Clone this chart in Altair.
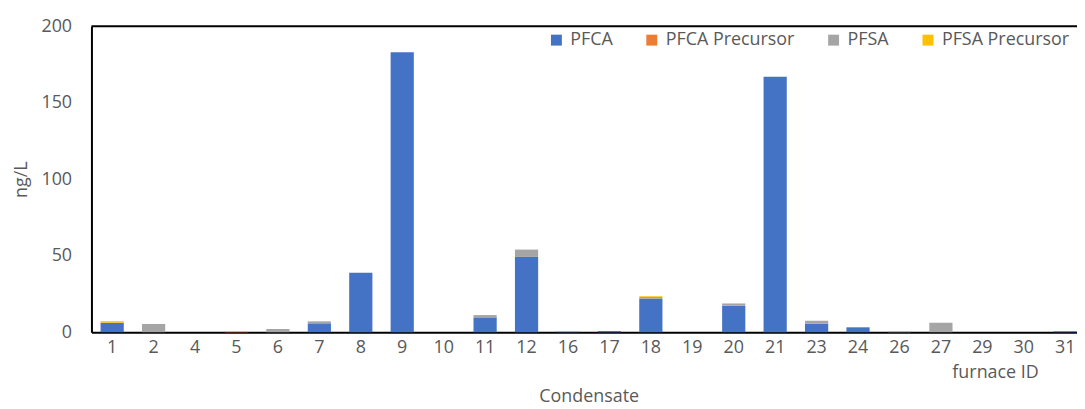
import altair as alt
import pandas as pd

furnaces = ["1", "2", "4", "5", "6", "7", "8", "9", "10", "11", "12", "16",
            "17", "18", "19", "20", "21", "23", "24", "26", "27", "29", "30", "31"]
series_names = ["PFCA", "PFCA Precursor", "PFSA", "PFSA Precursor"]
series_colors = ["#4472C4", "#ED7D31", "#A5A5A5", "#FFC000"]

pfca = [6.2, 0, 0, 0, 0, 5.8, 38.8, 183, 0, 9.7, 49.2, 0.3,
        0.8, 21.8, 0, 17.3, 167, 5.6, 3.2, 0, 0, 0, 0, 0.6]
pfca_prec = [0, 0, 0, 0.2, 0, 0, 0, 0, 0, 0, 0, 0,
             0, 0, 0, 0, 0, 0, 0, 0, 0, 0, 0, 0]
pfsa = [0, 5.4, 0, 0.2, 2.1, 1.3, 0, 0, 0, 1.5, 4.8, 0,
        0, 1.2, 0, 1.5, 0, 1.9, 0, 0.5, 6.2, 0, 0, 0]
pfsa_prec = [1.0, 0, 0, 0.4, 0, 0, 0, 0, 0, 0, 0, 0,
             0, 0.5, 0, 0, 0, 0, 0, 0, 0, 0, 0, 0]

rows = []
for i, f in enumerate(furnaces):
    for k, (name, vals) in enumerate(zip(series_names, [pfca, pfca_prec, pfsa, pfsa_prec])):
        rows.append({"furnace": f, "series": name, "value": vals[i], "order": k})
df = pd.DataFrame(rows)

FONT = "Open Sans"
GREY = "#595959"
FS = 18
PLOT_W = 1001
PLOT_H = 308

bars = alt.Chart(df).mark_bar().encode(
    x=alt.X("furnace:N", sort=furnaces,
            scale=alt.Scale(range=[0, PLOT_W], paddingInner=0.44, paddingOuter=0.22),
            axis=alt.Axis(title="Condensate", labelAngle=0, ticks=False,
                          domainColor="black", domainWidth=2,
                          labelPadding=6, titlePadding=32,
                          labelFontSize=FS, titleFontSize=FS,
                          labelColor=GREY, titleColor=GREY,
                          labelFont=FONT, titleFont=FONT, titleFontWeight="normal")),
    y=alt.Y("value:Q", stack="zero",
            scale=alt.Scale(domain=[0, 200], nice=False),
            axis=alt.Axis(title="ng/L", values=[0, 50, 100, 150, 200], grid=False,
                          ticks=False, domainColor="black", domainWidth=2,
                          labelPadding=20, titlePadding=10,
                          labelFontSize=FS, titleFontSize=FS,
                          labelColor=GREY, titleColor=GREY,
                          labelFont=FONT, titleFont=FONT, titleFontWeight="normal")),
    color=alt.Color("series:N", sort=series_names,
                    scale=alt.Scale(domain=series_names, range=series_colors),
                    legend=alt.Legend(title=None, orient="none", direction="horizontal",
                                      legendX=459, legendY=5, symbolType="square",
                                      symbolSize=121, symbolStrokeWidth=0,
                                      labelFontSize=FS, labelFont=FONT, labelColor=GREY,
                                      labelOffset=5, columnPadding=30, padding=0)),
    order=alt.Order("order:Q"),
)

top_line = alt.Chart(pd.DataFrame({"a": [0]})).mark_rule(color="black", strokeWidth=2).encode(
    y=alt.value(0), x=alt.value(0), x2=alt.value(PLOT_W)
)

furnace_label = alt.Chart(pd.DataFrame({"t": ["furnace ID"]})).mark_text(
    font=FONT, fontSize=FS, color=GREY, align="center", baseline="middle"
).encode(text="t:N", x=alt.value(910), y=alt.value(349))

chart = alt.layer(bars, top_line, furnace_label).properties(
    width=PLOT_W - 9, height=PLOT_H,
    autosize=alt.AutoSizeParams(type="none"),
    padding={"left": 84, "top": 17, "right": 0, "bottom": 84},
).configure_view(stroke=None)

chart.save("out.html", embed_options={"renderer": "svg", "actions": False})
